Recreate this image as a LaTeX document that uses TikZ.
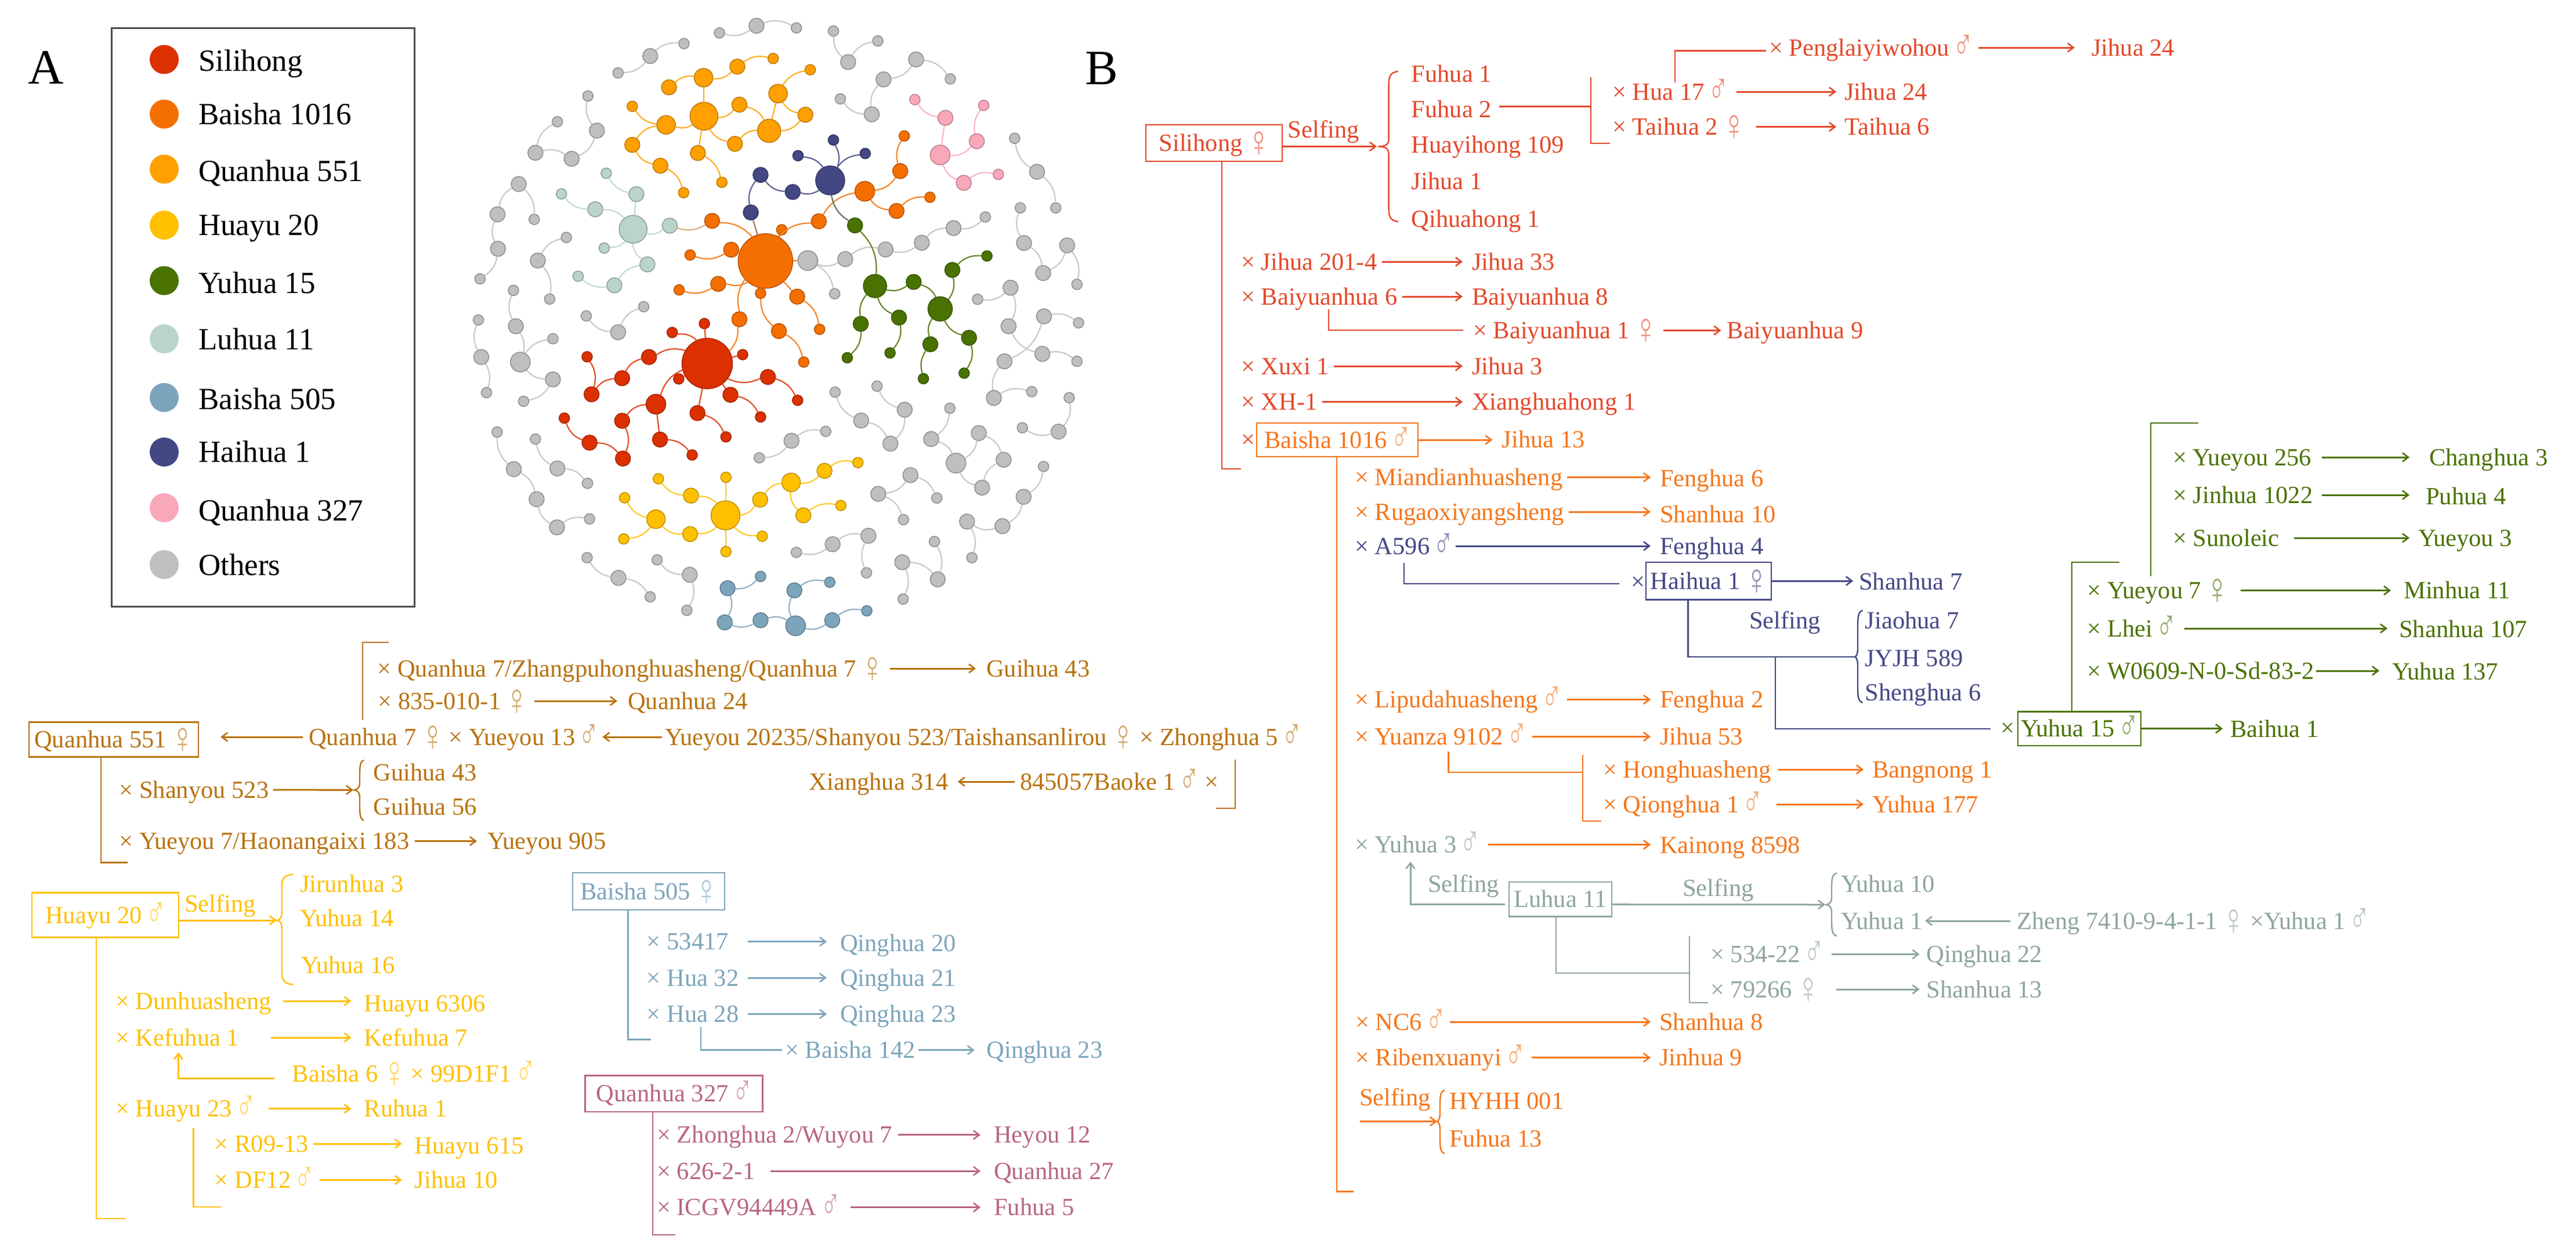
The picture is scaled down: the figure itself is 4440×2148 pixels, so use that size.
\documentclass[tikz,border=0pt]{standalone}
\usepackage{fontspec}
\usepackage{graphicx}
\setmainfont{Liberation Serif}
\usetikzlibrary{arrows.meta,calc}
\definecolor{cSil}{HTML}{DC3000}
\definecolor{cSilL}{HTML}{E4482A}
\definecolor{cBai}{HTML}{F56F00}
\definecolor{cBaiT}{HTML}{F5761A}
\definecolor{cQua}{HTML}{FFA000}
\definecolor{cQuaT}{HTML}{B8720F}
\definecolor{cHua}{HTML}{FFC000}
\definecolor{cYuh}{HTML}{4A7200}
\definecolor{cLuh}{HTML}{BAD4CC}
\definecolor{cLuhT}{HTML}{8DA59F}
\definecolor{cB505}{HTML}{7CA5BC}
\definecolor{cHai}{HTML}{434885}
\definecolor{cPnk}{HTML}{F9A8BA}
\definecolor{cPnkT}{HTML}{B9677E}
\definecolor{cOth}{HTML}{BFBFBF}
\colorlet{cur}{black}
\tikzset{
 tx/.style={inner sep=0pt,anchor=base west,text=cur,text height=30pt,text depth=2pt,font=\fontsize{42.5}{50}\selectfont},
 bxs/.style={inner sep=0pt,text=cur,draw=cur,line width=2.5pt,text height=30pt,text depth=2pt,font=\fontsize{42.5}{50}\selectfont},
 arr/.style={draw=cur,line width=3pt,-{Straight Barb[length=10pt,width=15pt,line width=2.6pt]}},
 ln/.style={draw=cur,line width=2.6pt},
 brs/.style={draw=cur,line width=2.4pt},
 nd/.style={circle,inner sep=0pt,minimum size=#1,fill=cur,draw=cur!75!black,line width=1.5pt},
 ed/.style={draw=cur!85!white,line width=2.2pt},
 lgt/.style={inner sep=0pt,anchor=base west,font=\fontsize{53}{60}\selectfont},
 lgd/.style={circle,inner sep=0pt,minimum size=50pt}
}
\newcommand\fe{\kern-3pt{\fontsize{76}{76}\selectfont\raisebox{-9pt}{\scalebox{.72}[1]{\color{cur!60}♀}}}\kern-3pt}
\newcommand\ma{\kern-4pt{\fontsize{76}{76}\selectfont\raisebox{-6pt}{\scalebox{.62}[1]{\color{cur!60}♂}}}\kern-2pt}
\newcommand\txt[4]{\node[tx] (#1) at (#2,#3) {#4};}
\newcommand\bx[6]{\node[bxs,minimum width=#4,minimum height=#5] (#1) at (#2,#3) {#6};}
\newcommand\arw[4]{\path ([xshift=-#4]#2.west) coordinate (tmpz); \draw[arr] ([xshift=#3]#1.east) -- (tmpz |- #1.east);}
\newcommand\arl[4]{\path ([xshift=#4]#2.east) coordinate (tmpz); \draw[arr] ([xshift=-#3]#1.west) -- (tmpz |- #1.west);}
\newcommand\plk[4]{\coordinate (#1a) at (#2); \coordinate (#1b) at (#3); \coordinate (#1c) at (#4); \draw[ln] (#1a)--(#1b)--(#1c);}
% x vertical, xt mid tip, xe end tips, top, mid, bottom
\newcommand\brc[6]{\draw[brs] (#3,#4) .. controls ({#1+1},{#4+2}) and (#1,{#4+10}) .. (#1,{#4+26}) -- (#1,{#5-14}) .. controls (#1,{#5-5}) and ({#1-3},#5) .. (#2,#5) .. controls ({#1-3},#5) and (#1,{#5+5}) .. (#1,{#5+14}) -- (#1,{#6-26}) .. controls (#1,{#6-10}) and ({#1+1},{#6-2}) .. (#3,#6);}
\newcommand\nA[4]{\node[nd=#4pt] (#1) at (#2,#3) {};}
\newcommand\nB[4]{\node[nd=#4pt] (#1) at ({#2},{#3+1447}) {};}
\newcommand\edl[2]{\draw[ed] (#1) to[bend left=24] (#2);}
\newcommand\edr[2]{\draw[ed] (#1) to[bend right=24] (#2);}
\newcommand\eds[2]{\draw[ed] (#1) -- (#2);}
\begin{document}
\begin{tikzpicture}[x=1pt,y=-1pt]
\useasboundingbox (0,0) rectangle (4440,2148);
\fill[white] (0,0) rectangle (4440,2148);
% panel letters
\node[inner sep=0pt,anchor=base west,font=\fontsize{85}{90}\selectfont] (panelA) at (48,144) {A};
\node[inner sep=0pt,anchor=base west,font=\fontsize{85}{90}\selectfont] (panelB) at (1870,145) {B};
% legend
\node[draw=black!70,line width=2.5pt,inner sep=0pt,minimum width=522pt,minimum height=997pt,anchor=north west] (legbox) at (191,47) {};
\foreach \nm/\col/\yc/\yb/\lab in {a/cSil/102.5/122/Silihong,b/cBai/196.6/214/Baisha 1016,c/cQua/291.5/312/Quanhua 551,d/cHua/388/405.5/Huayu 20,e/cYuh/483.6/505/Yuhua 15,f/cLuh/584/602/Luhua 11,g/cB505/685/705/Baisha 505,h/cHai/779/796/Haihua 1,i/cPnk/875/897/Quanhua 327,j/cOth/973/991/Others}{
 \node[lgd,fill=\col] (ld\nm) at (283,\yc) {};
 \node[lgt] (lt\nm) at (342,\yb) {\lab};
}
% ---------- network
\begin{scope}[x=0.7018pt,y=-0.4146pt,shift={(800pt,0pt)}]
\colorlet{cur}{cOth}
\nA{g1}{627}{137}{18}\nA{g2}{718}{107}{26}\nA{g3}{816}{116}{18}\edr{g1}{g2}\edl{g2}{g3}
\nA{g4}{378}{303}{18}\nA{g5}{457}{233}{26}\nA{g6}{540}{181}{18}\edr{g4}{g5}\edl{g5}{g6}
\nA{g7}{907}{129}{18}\nA{g8}{943}{258}{26}\nA{g9}{1016}{170}{18}\edr{g7}{g8}\edl{g8}{g9}
\nA{g10}{1110}{247}{26}\nA{g11}{1194}{328}{18}\nA{g12}{1030}{330}{26}\nA{g13}{1001}{475}{26}\nA{g14}{924}{411}{18}
\edl{g10}{g11}\edl{g10}{g12}\edr{g12}{g13}\edl{g13}{g14}
\nA{g15}{304}{399}{18}\nA{g16}{326}{543}{26}\nA{g17}{264}{660}{26}\nA{g18}{175}{635}{26}\nA{g19}{229}{506}{18}
\edr{g15}{g16}\edl{g16}{g17}\edr{g17}{g18}\edl{g18}{g19}
\nA{g20}{134}{765}{26}\nA{g21}{172}{912}{18}\nA{g22}{82}{891}{26}\nA{g23}{83}{1034}{26}\nA{g24}{39}{1159}{18}
\edl{g20}{g21}\edr{g20}{g22}\edr{g22}{g23}\edl{g23}{g24}
\nA{g25}{251}{987}{18}\nA{g26}{181}{1083}{26}\nA{g27}{210}{1243}{18}\edr{g25}{g26}\edl{g26}{g27}
\nA{g28}{1352}{575}{18}\nA{g29}{1407}{714}{26}\nA{g30}{1453}{864}{18}\edr{g28}{g29}\edl{g29}{g30}
\nA{g31}{844}{1083}{34}\nA{g32}{936}{1077}{26}\nA{g33}{1035}{1037}{26}\nA{g34}{1124}{1009}{26}\nA{g35}{1202}{948}{26}\nA{g36}{1280}{902}{18}\nA{g37}{910}{1221}{18}
\edr{g31}{g32}\edl{g32}{g33}\edr{g33}{g34}\edl{g34}{g35}\edr{g35}{g36}\edl{g31}{g37}
\nA{g38}{1366}{864}{18}\nA{g39}{1375}{1010}{26}\nA{g40}{1422}{1135}{26}\nA{g41}{1481}{1020}{26}\nA{g42}{1505}{1182}{18}
\edr{g38}{g39}\edl{g39}{g40}\edr{g40}{g41}\edl{g41}{g42}
\nA{g43}{1342}{1196}{26}\nA{g44}{1261}{1244}{18}\nA{g45}{1337}{1356}{26}\nA{g46}{1420}{1471}{26}\nA{g47}{1505}{1502}{18}
\edl{g43}{g44}\edl{g43}{g45}\edr{g45}{g46}\edl{g46}{g47}
\nA{g48}{1424}{1315}{26}\nA{g49}{1509}{1342}{18}\nA{g50}{1327}{1502}{26}\nA{g51}{1301}{1654}{26}\nA{g52}{1394}{1628}{18}
\edl{g48}{g49}\edl{g48}{g50}\edr{g50}{g51}\edl{g51}{g52}
\nA{g53}{121}{1207}{18}\nA{g54}{127}{1356}{26}\nA{g55}{138}{1505}{34}\nA{g56}{218}{1408}{18}\nA{g57}{218}{1577}{26}\nA{g58}{146}{1668}{18}
\edr{g53}{g54}\edl{g54}{g55}\edl{g55}{g56}\edr{g55}{g57}\edl{g57}{g58}
\nA{g59}{35}{1330}{18}\nA{g60}{42}{1484}{26}\nA{g61}{55}{1632}{18}\edr{g59}{g60}\edl{g60}{g61}
\nA{g62}{300}{1313}{18}\nA{g63}{378}{1381}{26}\nA{g64}{441}{1275}{18}\edr{g62}{g63}\edl{g63}{g64}
\nB{h1}{81}{349}{18}\nB{h2}{122}{503}{26}\nB{h3}{178}{628}{26}\nB{h4}{228}{745}{26}\nB{h5}{308}{710}{18}
\edr{h1}{h2}\edl{h2}{h3}\edr{h3}{h4}\edl{h4}{h5}
\nB{h6}{175}{378}{18}\nB{h7}{229}{500}{26}\nB{h8}{303}{562}{18}\edr{h6}{h7}\edl{h7}{h8}
\nB{h9}{725}{456}{18}\nB{h10}{804}{385}{26}\nB{h11}{888}{346}{18}\edr{h9}{h10}\edl{h10}{h11}
\nB{h12}{911}{183}{18}\nB{h13}{975}{301}{26}\nB{h14}{1047}{397}{26}\nB{h15}{1082}{256}{26}\nB{h16}{1014}{158}{18}
\edr{h12}{h13}\edl{h13}{h14}\edr{h14}{h15}\edr{h16}{h15}
\nB{h17}{1193}{250}{18}\nB{h18}{1147}{378}{26}\nB{h19}{1208}{478}{34}\nB{h20}{1264}{353}{26}\nB{h21}{1325}{464}{26}\nB{h22}{1272}{580}{26}
\edr{h18}{h17}\edl{h18}{h19}\edr{h19}{h20}\edl{h20}{h21}\edr{h21}{h22}\edr{h19}{h22}
\nB{h23}{1486}{206}{18}\nB{h24}{1460}{347}{26}\nB{h25}{1371}{331}{18}\edr{h24}{h23}\edl{h24}{h25}
\nB{h26}{1423}{492}{18}\nB{h27}{1374}{618}{26}\nB{h28}{1322}{740}{26}\nB{h29}{1235}{721}{26}\nB{h30}{1247}{871}{18}
\edr{h27}{h26}\edl{h27}{h28}\edl{h28}{h29}\edl{h29}{h30}
\nB{h31}{1096}{528}{26}\nB{h32}{1161}{623}{18}\nB{h33}{1017}{606}{26}\nB{h34}{1079}{713}{18}
\edl{h31}{h32}\edr{h33}{h31}\edl{h33}{h34}
\nB{h35}{993}{780}{26}\nB{h36}{905}{815}{26}\nB{h37}{816}{849}{18}\nB{h38}{988}{934}{18}
\edl{h36}{h35}\edr{h37}{h36}\edr{h35}{h38}
\nB{h39}{1155}{804}{18}\nB{h40}{1163}{961}{26}\nB{h41}{1076}{890}{26}\nB{h42}{1078}{1043}{18}
\edl{h39}{h40}\edr{h40}{h41}\edl{h41}{h42}
\nB{h43}{302}{871}{18}\nB{h44}{379}{955}{26}\nB{h45}{457}{1034}{18}\edr{h43}{h44}\edl{h44}{h45}
\nB{h46}{474}{880}{18}\nB{h47}{554}{942}{26}\nB{h48}{547}{1090}{18}\edr{h46}{h47}\edl{h47}{h48}
% Quanhua 551
\colorlet{cur}{cQua}
\nA{q1}{503}{363}{26}\nA{q2}{588}{323}{32}\nA{q3}{671}{277}{26}\nA{q4}{759}{243}{18}\nA{q6}{589}{483}{48}
\nA{q5}{413}{442}{18}\nA{q7}{496}{519}{32}\nA{q8}{676}{435}{26}\nA{q11}{749}{544}{40}\nA{q9}{665}{598}{26}
\nA{q10}{771}{389}{32}\nA{q12}{850}{290}{18}\nA{q13}{838}{477}{26}\nA{q14}{413}{602}{26}\nA{q15}{482}{689}{26}\nA{q16}{539}{801}{18}\nA{q17}{574}{636}{26}\nA{q18}{633}{758}{18}
\edl{q1}{q2}\edr{q2}{q3}\edl{q3}{q4}\eds{q2}{q6}\edr{q5}{q7}\edr{q7}{q6}\edr{q6}{q8}\edl{q8}{q11}\edr{q6}{q9}\edl{q9}{q11}\eds{q11}{q10}\edl{q10}{q12}\edr{q10}{q13}\edr{q11}{q13}\edr{q7}{q14}\edr{q14}{q15}\edl{q15}{q16}\eds{q6}{q17}\edl{q17}{q18}
% Luhua 11
\colorlet{cur}{cLuh}
\nA{l1}{349}{720}{18}\nA{l2}{423}{807}{26}\nA{l5}{415}{953}{48}\nA{l3}{239}{806}{18}\nA{l4}{322}{870}{26}\nA{l6}{505}{938}{26}\nA{l7}{344}{1031}{18}\nA{l8}{450}{1099}{26}\nA{l9}{369}{1186}{26}\nA{l10}{280}{1148}{18}
\edr{l1}{l2}\eds{l2}{l5}\edr{l3}{l4}\edl{l4}{l5}\edr{l5}{l6}\edl{l5}{l7}\edr{l5}{l8}\edr{l8}{l9}\edl{l9}{l10}
% Baisha 1016
\colorlet{cur}{cBai}
\nA{b0}{740}{1085}{94}\nA{b1}{609}{918}{26}\nA{b2}{780}{955}{18}\nA{b3}{656}{1038}{26}\nA{b4}{555}{1060}{18}\nA{b5}{624}{1180}{26}\nA{b6}{528}{1205}{18}\nA{b7}{728}{1219}{18}\nA{b8}{818}{1233}{26}\nA{b9}{873}{1369}{18}\nA{b10}{676}{1327}{26}\nA{b11}{773}{1376}{26}\nA{b12}{834}{1505}{18}\nA{b13}{871}{920}{26}\nA{b14}{984}{795}{34}\nA{b15}{1071}{711}{26}\nA{b16}{1081}{565}{18}\nA{b17}{1062}{877}{26}\nA{b18}{1144}{820}{18}
\edl{b1}{b0}\eds{b0}{b2}\eds{b3}{b0}\edr{b4}{b3}\edr{b5}{b0}\edr{b6}{b5}\eds{b7}{b0}\edl{b8}{b9}\eds{b0}{b8}\edl{b10}{b0}\edr{b7}{b11}\edl{b11}{b12}\edr{b13}{b0}\edl{b13}{b14}\edr{b14}{b15}\edl{b15}{b16}\edr{b14}{b17}\edl{b17}{b18}\eds{g31}{b0}
\colorlet{cur}{cBai!50!cLuh}\edr{l6}{b1}
% Haihua
\colorlet{cur}{cHai}
\nA{hh0}{899}{750}{50}\nA{hh1}{907}{582}{18}\nA{hh2}{820}{647}{18}\nA{hh3}{985}{638}{18}\nA{hh4}{807}{798}{26}\nA{hh6}{728}{727}{26}\nA{hh5}{704}{883}{26}
\edl{hh1}{hh0}\edl{hh2}{hh0}\edl{hh0}{hh3}\edr{hh4}{hh0}\edl{hh4}{hh6}\edr{hh6}{hh5}
\colorlet{cur}{cBai!50!cHai}\eds{hh5}{b0}
% Yuhua 15
\colorlet{cur}{cYuh}
\nA{y1}{960}{937}{26}\nA{y2}{1009}{1189}{40}\nA{y3}{1104}{1172}{26}\nA{y4}{1169}{1284}{42}\nA{y5}{1199}{1122}{26}\nA{y6}{1284}{1064}{18}\nA{y7}{974}{1346}{26}\nA{y8}{941}{1487}{18}\nA{y9}{1068}{1320}{26}\nA{y10}{1046}{1467}{18}\nA{y11}{1145}{1431}{26}\nA{y12}{1128}{1574}{18}\nA{y13}{1240}{1404}{26}\nA{y14}{1228}{1551}{18}
\edl{y1}{y2}\edr{y2}{y3}\edl{y3}{y4}\edr{y4}{y5}\edl{y5}{y6}\edl{y7}{y2}\edl{y7}{y8}\edr{y2}{y9}\edl{y9}{y10}\edr{y4}{y11}\edr{y11}{y12}\edr{y4}{y13}\edl{y13}{y14}
\colorlet{cur}{cHai!50!cYuh}\edr{hh0}{y1}
% Quanhua 327
\colorlet{cur}{cPnk}
\nA{p1}{1107}{414}{18}\nA{p2}{1182}{490}{26}\nA{p3}{1169}{644}{34}\nA{p4}{1259}{587}{26}\nA{p5}{1276}{438}{18}\nA{p6}{1227}{760}{26}\nA{p7}{1312}{725}{18}
\edr{p1}{p2}\eds{p2}{p3}\edr{p3}{p4}\edl{p4}{p5}\edr{p3}{p6}\edl{p6}{p7}
% Silihong
\colorlet{cur}{cSil}
\nA{s0}{597}{1511}{87}\nA{s1}{590}{1345}{18}\nA{s2}{511}{1382}{18}\nA{s3}{684}{1474}{18}\nA{s4}{454}{1484}{26}\nB{s5}{388}{125}{26}\nB{s6}{313}{192}{26}\nA{s7}{302}{1483}{18}\nB{s8}{527}{128}{18}\nB{s9}{471}{233}{34}\nB{s10}{388}{302}{26}\nB{s11}{390}{459}{26}\nB{s12}{308}{393}{26}\nB{s13}{246}{291}{18}\nB{s14}{481}{380}{26}\nB{s15}{560}{444}{18}\nB{s16}{573}{270}{26}\nB{s17}{643}{369}{18}\nB{s18}{654}{194}{26}\nB{s19}{728}{286}{18}\nB{s20}{746}{120}{26}\nB{s21}{819}{217}{18}
\eds{s1}{s0}\edl{s2}{s0}\eds{s3}{s0}\edl{s4}{s0}\edr{s4}{s5}\edr{s5}{s6}\edl{s7}{s6}\eds{s8}{s0}\edr{s0}{s9}\edr{s9}{s10}\edl{s10}{s11}\edr{s11}{s12}\edl{s12}{s13}\eds{s9}{s14}\edl{s14}{s15}\eds{s0}{s16}\edl{s16}{s17}\eds{s0}{s18}\edl{s18}{s19}\edr{s0}{s20}\edl{s20}{s21}
\colorlet{cur}{cBai}\edl{b10}{s0}
% Huayu
\colorlet{cur}{cHua}
\nB{u0}{642}{695}{50}\nB{u1}{643}{537}{18}\nB{u2}{477}{543}{18}\nB{u3}{557}{613}{26}\nB{u4}{394}{622}{18}\nB{u5}{471}{711}{32}\nB{u6}{392}{793}{18}\nB{u7}{555}{773}{26}\nB{u8}{727}{630}{26}\nB{u9}{803}{558}{32}\nB{u10}{885}{510}{26}\nB{u11}{967}{476}{18}\nB{u12}{833}{695}{26}\nB{u13}{925}{654}{18}\nB{u14}{732}{782}{18}\nB{u15}{643}{846}{18}
\eds{u1}{u0}\edr{u2}{u3}\edl{u3}{u0}\edr{u4}{u5}\edl{u5}{u6}\edr{u5}{u7}\edr{u7}{u0}\edr{u0}{u8}\edl{u8}{u9}\edr{u9}{u10}\edl{u10}{u11}\edr{u9}{u12}\edl{u12}{u13}\edr{u0}{u14}\eds{u0}{u15}
% Baisha 505
\colorlet{cur}{cB505}
\nB{a1}{728}{949}{18}\nB{a2}{647}{998}{26}\nB{a3}{640}{1140}{26}\nB{a4}{728}{1131}{26}\nB{a5}{814}{1154}{34}\nB{a6}{811}{1007}{26}\nB{a7}{898}{973}{18}\nB{a8}{904}{1131}{26}\nB{a9}{989}{1092}{18}
\edr{a2}{a1}\edl{a2}{a3}\edr{a3}{a4}\edl{a4}{a5}\edr{a6}{a5}\edl{a6}{a7}\edr{a5}{a8}\edl{a8}{a9}
\end{scope}
% ---------- Quanhua 551 pedigree
\colorlet{cur}{cQuaT}
\bx{qbox}{196}{1274.5}{292pt}{60pt}{Quanhua 551 \fe}
\txt{qa}{650.5}{1166}{× Quanhua 7/Zhangpuhonghuasheng/Quanhua 7 \fe}
\txt{qb}{1700}{1166}{Guihua 43}
\txt{qc}{651.5}{1222}{× 835-010-1 \fe}
\txt{qd}{1082}{1222}{Quanhua 24}
\txt{qe}{532}{1284}{Quanhua 7 \fe{} × Yueyou 13 \ma}
\txt{qf}{1146}{1284}{Yueyou 20235/Shanyou 523/Taishansanlirou \fe{} × Zhonghua 5 \ma}
\txt{qg}{1394.6}{1361}{Xianghua 314}
\txt{qh}{1758}{1361}{845057Baoke 1 \ma{} ×}
\txt{qi}{205.4}{1375}{× Shanyou 523}
\txt{qj}{643.4}{1345}{Guihua 43}
\txt{qk}{643.4}{1404.5}{Guihua 56}
\txt{ql}{205.4}{1463.5}{× Yueyou 7/Haonangaixi 183}
\txt{qm}{840}{1463.5}{Yueyou 905}
\arw{qa}{qb}{12}{18}\arw{qc}{qd}{12}{18}\arl{qe}{qbox}{10}{37}\arl{qf}{qe}{5}{7}\arl{qh}{qg}{9}{16}\arw{ql}{qm}{10}{18}
\plk{qx}{670,1107}{625,1107}{625,1241}
\plk{qy}{2129,1308.5}{2129,1393}{2096,1393}
\plk{qz}{174,1304.7}{174,1486.4}{220,1486.4}
\brc{620}{609}{627}{1310}{1361.4}{1414}
\coordinate (qtip) at (609,1361.4);
\draw[arr] ([xshift=7pt]qi.east) -- (qtip);
% ---------- Huayu 20
\colorlet{cur}{cHua}
\bx{ubox}{181.5}{1577}{253pt}{77pt}{Huayu 20 \ma}
\txt{us}{318}{1571.5}{Selfing}
\txt{ua}{517}{1537.4}{Jirunhua 3}
\txt{ub}{517}{1596.4}{Yuhua 14}
\txt{uc}{519}{1677}{Yuhua 16}
\brc{485.7}{477}{505}{1506.5}{1586}{1696.8}
\coordinate (utip) at (477,1586);
\draw[arr] ([yshift=-9pt]ubox.east) -- (utip);
\txt{ud}{199}{1739}{× Dunhuasheng}
\txt{ue}{627.6}{1743}{Huayu 6306}
\txt{uf}{199}{1802}{× Kefuhua 1}
\txt{ug}{627.6}{1802}{Kefuhua 7}
\txt{uh}{503.7}{1864}{Baisha 6 \fe{} × 99D1F1 \ma}
\txt{ui}{199}{1924.7}{× Huayu 23 \ma}
\txt{uj}{627.6}{1924.7}{Ruhua 1}
\txt{uk}{369.7}{1985}{× R09-13}
\txt{ul}{714.7}{1988.7}{Huayu 615}
\txt{um}{369.7}{2047.6}{× DF12 \ma}
\txt{un}{714.7}{2047.6}{Jihua 10}
\arw{ud}{ue}{20}{22}\arw{uf}{ug}{55}{22}\arw{ui}{uj}{23}{22}\arw{uk}{ul}{8}{22}\arw{um}{un}{10}{22}
\coordinate (uu1) at (473,1858); \coordinate (uu2) at (307.4,1813.6);
\draw[arr] (uu1) -| (uu2);
\plk{ux}{166,1615.6}{166,2100}{216,2100}
\plk{uy}{333.6,1944}{333.6,2080}{381.8,2080}
% ---------- Baisha 505
\colorlet{cur}{cB505}
\bx{abox}{1118}{1536}{262pt}{64pt}{Baisha 505 \fe}
\txt{aa}{1114.7}{1636.7}{× 53417}
\txt{ab}{1448}{1639.5}{Qinghua 20}
\txt{ac}{1114.7}{1699}{× Hua 32}
\txt{ad}{1448}{1699}{Qinghua 21}
\txt{ae}{1114.7}{1761.5}{× Hua 28}
\txt{af}{1448}{1761.5}{Qinghua 23}
\txt{ag}{1353}{1823.7}{× Baisha 142}
\txt{ah}{1700.7}{1823.7}{Qinghua 23}
\arw{aa}{ab}{33}{23}\arw{ac}{ad}{15}{23}\arw{ae}{af}{15}{23}\arw{ag}{ah}{5}{21}
\plk{ax}{1082.5,1568}{1082.5,1791.5}{1121.7,1791.5}
\plk{ay}{1208,1769.5}{1208,1809.7}{1347.7,1809.7}
% ---------- Quanhua 327
\colorlet{cur}{cPnkT}
\bx{pbox}{1161.7}{1884.7}{306pt}{62.6pt}{Quanhua 327 \ma}
\txt{pa}{1132}{1969.8}{× Zhonghua 2/Wuyou 7}
\txt{pb}{1713}{1969.8}{Heyou 12}
\txt{pc}{1132}{2032}{× 626-2-1}
\txt{pd}{1713}{2032}{Quanhua 27}
\txt{pe}{1132}{2094.6}{× ICGV94449A \ma}
\txt{pf}{1713}{2094.6}{Fuhua 5}
\arw{pa}{pb}{10}{23}\arw{pc}{pd}{26}{23}\arw{pe}{pf}{18}{23}
\plk{px}{1125,1916}{1125,2127.8}{1163.9,2127.8}
% ---------- Silihong
\colorlet{cur}{cSilL}
\bx{sbox}{2092.5}{246.5}{235pt}{63pt}{Silihong \fe}
\txt{ss}{2219.5}{237}{Selfing}
\brc{2393.6}{2375}{2410}{123}{252.5}{382}
\coordinate (stip) at (2373,252.5);
\draw[arr] ([yshift=-6pt]sbox.east) -- (stip);
\txt{sa}{2432.6}{141}{Fuhua 1}
\txt{sb}{2432.6}{202}{Fuhua 2}
\txt{sc}{2432.6}{263}{Huayihong 109}
\txt{sd}{2432.6}{326}{Jihua 1}
\txt{se}{2432.6}{391}{Qihuahong 1}
\plk{sj}{2742,132.6}{2742,247}{2775,247}
\coordinate (sjm) at (2742,183.6); \coordinate (sjn) at (2584,183.6);
\draw[ln] (sjn) -- (sjm);
\txt{sf}{2779}{172}{× Hua 17 \ma}
\txt{sg}{3179}{172}{Jihua 24}
\txt{sh}{2779}{232.5}{× Taihua 2 \fe}
\txt{si}{3179}{232.5}{Taihua 6}
\plk{sk}{2887,142}{2887,87.6}{3044,87.6}
\txt{sl}{3049}{96}{× Penglaiyiwohou \ma}
\txt{sm}{3605}{96}{Jihua 24}
\arw{sf}{sg}{15}{14}\arw{sh}{si}{20}{14}\arw{sl}{sm}{10}{29}
\txt{sn}{2139}{465}{× Jihua 201-4}
\txt{so}{2537}{465}{Jihua 33}
\txt{sp}{2139}{525}{× Baiyuanhua 6}
\txt{sq}{2537}{525}{Baiyuanhua 8}
\txt{sr}{2539}{583.5}{× Baiyuanhua 1 \fe}
\txt{st}{2976.5}{583.5}{Baiyuanhua 9}
\txt{su}{2139}{645}{× Xuxi 1}
\txt{sv}{2537}{645}{Jihua 3}
\txt{sw}{2139}{706.5}{× XH-1}
\txt{sy}{2537}{706.5}{Xianghuahong 1}
\txt{sz}{2139}{771}{×}
\arw{sn}{so}{8}{16}\arw{sp}{sq}{8}{16}\arw{sr}{st}{12}{10}\arw{su}{sv}{8}{16}\arw{sw}{sy}{8}{16}
\plk{sx}{2290,532.5}{2290,569}{2522,569}
\plk{sv}{2106,278}{2106,808}{2139,808}
% ---------- Baisha 1016
\colorlet{cur}{cBaiT}
\bx{bbox}{2304.8}{758}{278pt}{57.6pt}{Baisha 1016 \ma}
\txt{ba}{2588.5}{771}{Jihua 13}
\arw{bbox}{ba}{0}{16}
\plk{bx}{2304,786.6}{2304,2053.6}{2333,2053.6}
\txt{bb}{2335}{836.6}{× Miandianhuasheng}
\txt{bc}{2861}{838}{Fenghua 6}
\txt{bd}{2335}{896}{× Rugaoxiyangsheng}
\txt{be}{2861}{900}{Shanhua 10}
\arw{bb}{bc}{8}{16}\arw{bd}{be}{8}{16}
\txt{bf}{2335}{1219.6}{× Lipudahuasheng \ma}
\txt{bg}{2861}{1219.6}{Fenghua 2}
\txt{bh}{2335}{1283.5}{× Yuanza 9102 \ma}
\txt{bi}{2861}{1283.5}{Jihua 53}
\arw{bf}{bg}{10}{16}\arw{bh}{bi}{10}{16}
\plk{by}{2496.5,1294.6}{2496.5,1331}{2728,1331}
\plk{bz}{2728,1301}{2728,1415}{2760,1415}
\txt{bj}{2763}{1340}{× Honghuasheng}
\txt{bk}{3227}{1340}{Bangnong 1}
\txt{bl}{2763}{1400}{× Qionghua 1 \ma}
\txt{bm}{3227}{1400}{Yuhua 177}
\arw{bj}{bk}{12}{15}\arw{bl}{bm}{25}{15}
\txt{bn}{2861}{1470}{Kainong 8598}
\txt{bo}{2336}{1775}{× NC6 \ma}
\txt{bp}{2860}{1775}{Shanhua 8}
\txt{bq}{2336}{1836.6}{× Ribenxuanyi \ma}
\txt{br}{2860}{1836.6}{Jinhua 9}
\arw{bo}{bp}{8}{15}\arw{bq}{br}{12}{15}
\txt{bs}{2343}{1905}{Selfing}
\txt{bt}{2498}{1911}{HYHH 001}
\txt{bu}{2498}{1976}{Fuhua 13}
\brc{2482}{2477}{2490}{1878.6}{1932.6}{1988}
\coordinate (bta) at (2344,1932.6); \coordinate (btb) at (2477,1932.6);
\draw[arr] (bta) -- (btb);
% ---------- Luhua 11
\colorlet{cur}{cLuhT}
\txt{lya}{2335}{1469.6}{× Yuhua 3 \ma}
\colorlet{cur}{cBaiT}
\arw{lya}{bn}{15}{16}
\colorlet{cur}{cLuhT}
\bx{lbox}{2689.5}{1549.7}{177pt}{59.6pt}{Luhua 11}
\txt{lsa}{2461}{1537}{Selfing}
\txt{lsb}{2900}{1544}{Selfing}
\coordinate (lua) at (2431,1485);
\draw[arr] ([yshift=-9pt,xshift=-6pt]lbox.west) -| (lua);
\brc{3157}{3146}{3166}{1504.5}{1559}{1613}
\coordinate (ltip) at (3146,1559);
\draw[arr] ([yshift=-9pt]lbox.east) -- (ltip);
\txt{lc}{3173}{1537}{Yuhua 10}
\txt{ld}{3173}{1601}{Yuhua 1}
\txt{le}{3476}{1601}{Zheng 7410-9-4-1-1 \fe{} ×Yuhua 1 \ma}
\arl{le}{ld}{11}{4}
\plk{lx}{2682,1579.5}{2682,1677}{2912,1677}
\plk{ly}{2912,1613}{2912,1728}{2944,1728}
\txt{lf}{2948}{1658.5}{× 534-22 \ma}
\txt{lg}{3320.5}{1658.5}{Qinghua 22}
\txt{lh}{2948}{1719}{× 79266 \fe}
\txt{li}{3320.5}{1719}{Shanhua 13}
\arw{lf}{lg}{14}{12}\arw{lh}{li}{30}{12}
% ---------- Haihua 1
\colorlet{cur}{cHai}
\txt{ha}{2335}{955}{× A596 \ma}
\txt{hb}{2861}{955}{Fenghua 4}
\arw{ha}{hb}{5}{16}
\plk{hx}{2420,970}{2420,1006}{2791,1006}
\txt{hc}{2811}{1016.5}{×}
\bx{hbox}{2945}{1001.2}{216pt}{64.5pt}{Haihua 1 \fe}
\txt{hd}{3204}{1016.5}{Shanhua 7}
\arw{hbox}{hd}{0}{10}
\txt{he}{3015}{1083.5}{Selfing}
\plk{hy}{2909.5,1033.5}{2909.5,1132}{3197,1132}
\brc{3202}{3197}{3210.5}{1052}{1132}{1211}
\txt{hf}{3214.6}{1083.5}{Jiaohua 7}
\txt{hg}{3214.6}{1148}{JYJH 589}
\txt{hh}{3214.6}{1207.6}{Shenghua 6}
\plk{hz}{3060,1132}{3060,1256}{3431,1256}
% ---------- Yuhua 15
\colorlet{cur}{cYuh}
\txt{ya}{3448}{1268}{×}
\bx{ybox}{3584}{1255.7}{212pt}{58.6pt}{Yuhua 15 \ma}
\txt{yb}{3844}{1270}{Baihua 1}
\arw{ybox}{yb}{0}{13}
\plk{yx}{3571,1226.5}{3571,969}{3653,969}
\txt{yc}{3597.6}{1031.6}{× Yueyou 7 \fe}
\txt{yd}{4143}{1031.6}{Minhua 11}
\txt{ye}{3597.6}{1097}{× Lhei \ma}
\txt{yf}{4135}{1098}{Shanhua 107}
\txt{yg}{3597.6}{1170}{× W0609-N-0-Sd-83-2}
\txt{yh}{4123}{1171}{Yuhua 137}
\arw{yc}{yd}{22}{22}\arw{ye}{yf}{15}{20}\arw{yg}{yh}{3}{22}
\plk{yy}{3707,993}{3707,729}{3789,729}
\txt{yi}{3745}{802}{× Yueyou 256}
\txt{yj}{4187}{802}{Changhua 3}
\txt{yk}{3745}{867}{× Jinhua 1022}
\txt{yl}{4181}{869}{Puhua 4}
\txt{ym}{3745}{941}{× Sunoleic}
\txt{yn}{4168}{941}{Yueyou 3}
\arw{yi}{yj}{18}{34}\arw{yk}{yl}{15}{28}\arw{ym}{yn}{25}{15}
\end{tikzpicture}
\end{document}
